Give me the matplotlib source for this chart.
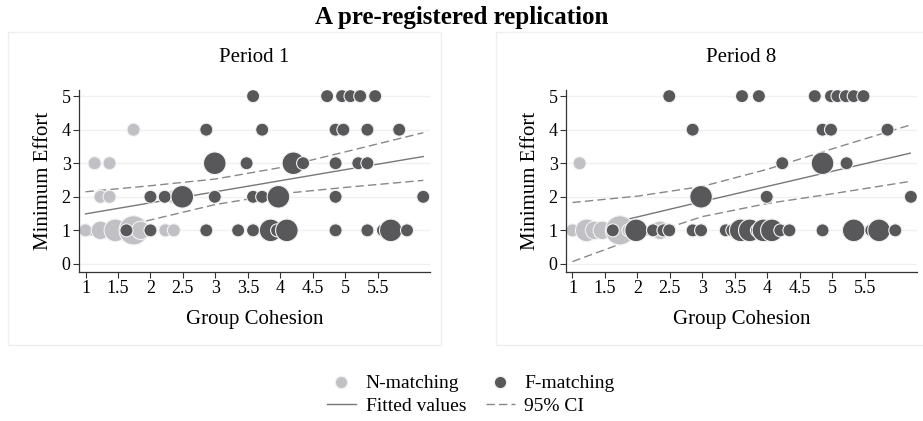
import matplotlib.pyplot as plt
from matplotlib.patches import Rectangle
from matplotlib.lines import Line2D

plt.rcParams['font.family'] = ['Liberation Serif', 'DejaVu Serif']

# --- Period 1 ---
p1_n_x = [1.0, 1.23, 1.46, 1.74, 1.85, 2.23, 2.36, 1.23, 1.37, 2.34, 1.14, 1.37, 1.74]
p1_n_y = [1, 1, 1, 1, 1, 1, 1, 2, 2, 2, 3, 3, 4]
p1_n_w = [1, 2, 3, 5, 2, 1, 1, 1, 1, 1, 1, 1, 1]

p1_f_x = [1.63, 2.0, 2.86, 3.35, 3.58, 3.85, 3.95, 4.1, 4.85, 5.34, 5.58, 5.7, 5.95,
          2.0, 2.22, 2.49, 2.99, 3.58, 3.72, 3.97, 4.85, 6.2,
          2.99, 3.48, 4.2, 4.35, 4.85, 5.2, 5.34,
          2.86, 3.72, 4.85, 4.97, 5.34, 5.83,
          3.58, 4.72, 4.95, 5.08, 5.23, 5.46]
p1_f_y = [1] * 13 + [2] * 9 + [3] * 7 + [4] * 6 + [5] * 6
p1_f_w = [1, 1, 1, 1, 1, 3, 1, 3, 1, 1, 1, 3, 1,
          1, 1, 3, 1, 1, 1, 3, 1, 1,
          3, 1, 3, 1, 1, 1, 1,
          1, 1, 1, 1, 1, 1,
          1, 1, 1, 1, 1, 1]

# --- Period 8 ---
p8_n_x = [1.0, 1.22, 1.34, 1.46, 1.73, 1.86, 2.35, 1.11]
p8_n_y = [1, 1, 1, 1, 1, 1, 1, 3]
p8_n_w = [1, 3, 2, 2, 5, 1, 2, 1]

p8_f_x = [1.62, 1.98, 2.24, 2.4, 2.49, 2.85, 2.98, 3.36, 3.46, 3.59, 3.73, 3.84, 3.94,
          4.07, 4.2, 4.34, 4.85, 5.33, 5.6, 5.72, 5.97,
          2.98, 3.99, 6.21,
          4.23, 4.85, 5.22,
          2.85, 4.85, 4.98, 5.85,
          2.49, 3.61, 3.87, 4.73, 4.98, 5.08, 5.21, 5.33, 5.48]
p8_f_y = [1] * 21 + [2] * 3 + [3] * 3 + [4] * 4 + [5] * 9
p8_f_w = [1, 3, 1, 1, 1, 1, 1, 1, 1, 3, 3, 1, 3,
          3, 1, 1, 1, 3, 1, 3, 1,
          3, 1, 1,
          1, 3, 1,
          1, 1, 1, 1,
          1, 1, 1, 1, 1, 1, 1, 1, 1]

# fitted values and 95% CI
line_x = [1, 2, 3, 4, 5, 6.2]
p1_fit = [1.49, 1.82, 2.15, 2.48, 2.81, 3.20]
p1_hi = [2.15, 2.33, 2.53, 2.87, 3.34, 3.91]
p1_lo = [0.83, 1.31, 1.77, 2.09, 2.28, 2.49]
p8_fit = [0.95, 1.40, 1.86, 2.31, 2.76, 3.30]
p8_hi = [1.83, 2.02, 2.31, 2.82, 3.43, 4.14]
p8_lo = [0.07, 0.78, 1.41, 1.80, 2.09, 2.46]

x_ticks = [1, 1.5, 2, 2.5, 3, 3.5, 4, 4.5, 5, 5.5]
x_labels = ['1', '1.5', '2', '2.5', '3', '3.5', '4', '4.5', '5', '5.5']
y_ticks = [0, 1, 2, 3, 4, 5]

light = '#c0c0c5'
dark = '#58585a'
edge = '#f2f2f2'

fig = plt.figure(figsize=(9.23, 4.21), dpi=100)

# panel background boxes
fig.patches.append(Rectangle((8 / 923, 1 - 345 / 421), 433 / 923, 313 / 421,
                             transform=fig.transFigure, fill=False,
                             edgecolor='#efefef', lw=1))
fig.patches.append(Rectangle((496 / 923, 1 - 345 / 421), 440 / 923, 313 / 421,
                             transform=fig.transFigure, fill=False,
                             edgecolor='#efefef', lw=1))

panels = [
    (0.0856, 'Period 1', p1_n_x, p1_n_y, p1_n_w, p1_f_x, p1_f_y, p1_f_w, p1_fit, p1_hi, p1_lo),
    (0.6132, 'Period 8', p8_n_x, p8_n_y, p8_n_w, p8_f_x, p8_f_y, p8_f_w, p8_fit, p8_hi, p8_lo),
]

for left, title, nx, ny, nw, fx, fy, fw, fit, hi, lo in panels:
    ax = fig.add_axes([left, 0.354, 0.380, 0.432])
    for yv in y_ticks:
        ax.axhline(yv, color='#f0f0f0', lw=1, zorder=0)
    ax.plot(line_x, fit, color='#777777', lw=1, zorder=1)
    ax.plot(line_x, hi, color='#888888', lw=1, ls=(0, (6, 3)), zorder=1)
    ax.plot(line_x, lo, color='#888888', lw=1, ls=(0, (6, 3)), zorder=1)
    ax.scatter(nx, ny, s=[88 * w for w in nw], color=light, edgecolors=edge,
               linewidths=0.8, zorder=2)
    ax.scatter(fx, fy, s=[88 * w for w in fw], color=dark, edgecolors=edge,
               linewidths=0.8, zorder=3)
    ax.set_xlim(0.9, 6.3)
    ax.set_ylim(-0.24, 5.18)
    ax.set_xticks(x_ticks)
    ax.set_xticklabels(x_labels)
    ax.set_yticks(y_ticks)
    ax.tick_params(labelsize=13, length=4, color='#333333', pad=2)
    for s in ['top', 'right']:
        ax.spines[s].set_visible(False)
    for s in ['left', 'bottom']:
        ax.spines[s].set_color('#333333')
        ax.spines[s].set_linewidth(0.9)
    ax.set_title(title, fontsize=15, pad=20)
    ax.set_xlabel('Group Cohesion', fontsize=15, labelpad=9)
    ax.set_ylabel('Minimum Effort', fontsize=15, labelpad=6)

fig.suptitle('A pre-registered replication', fontsize=18, fontweight='bold', y=0.985)

handles = [
    Line2D([], [], marker='o', ls='', color=light, markeredgecolor=edge, markersize=9),
    Line2D([], [], color='#777777', lw=1),
    Line2D([], [], marker='o', ls='', color=dark, markeredgecolor=edge, markersize=9),
    Line2D([], [], color='#888888', lw=1, ls=(0, (6, 3))),
]
labels = ['N-matching', 'Fitted values', 'F-matching', '95% CI']
fig.legend(handles, labels, ncol=2, loc='center', bbox_to_anchor=(0.51, 0.062),
           frameon=False, fontsize=14, handlelength=1.5, handletextpad=0.5,
           columnspacing=1.0, labelspacing=0.25)

fig.savefig('out.png', dpi=100)
